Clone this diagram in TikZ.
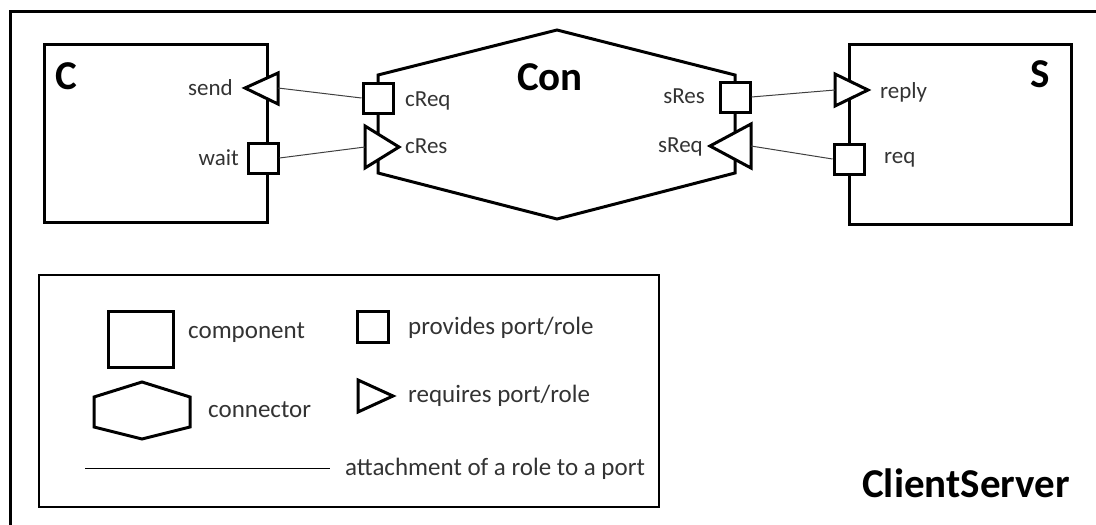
\documentclass[tikz,border=0pt]{standalone}
\usepackage{fontspec}
\setmainfont{Carlito}
\begin{document}
\begin{tikzpicture}[x=1pt,y=-1pt,
  thickline/.style={line width=3pt, line join=miter},
  portbox/.style={draw, thickline, fill=white, minimum size=30pt, inner sep=0pt},
  compbox/.style={draw, thickline, anchor=north west, inner sep=0pt},
  reqtri/.style={draw, thickline, fill=white},
  attach/.style={draw=black!75, line width=1pt},
  lbl/.style={inner sep=0pt, text=black!80, font=\fontsize{23}{27}\selectfont},
  leglbl/.style={inner sep=0pt, text=black!80, font=\fontsize{25}{29}\selectfont},
  title/.style={inner sep=0pt, font=\fontsize{41}{46}\selectfont\bfseries},
]
\useasboundingbox (0,0) rectangle (1096,525);

% outer frame
\draw[thickline] (10,525) -- (10,11) -- (1096,11);

% components
\node[compbox, minimum width=223pt, minimum height=178pt] (C) at (43,43) {};
\node[compbox, minimum width=222pt, minimum height=180pt] (S) at (848,43) {};
\node[title] (Ct) at (66,76) {C};
\node[title] (St) at (1040,74) {S};

% connector
\coordinate (h1) at (378,75);
\coordinate (h2) at (557,30);
\coordinate (h3) at (735,75);
\coordinate (h4) at (735,173);
\coordinate (h5) at (557,219);
\coordinate (h6) at (378,173);
\draw[thickline] (h1) -- (h2) -- (h3) -- (h4) -- (h5) -- (h6) -- cycle;
\node[title] (Con) at (550,77) {Con};

% required ports / roles (triangles)
\draw[reqtri] (278,73) -- (245,88) -- (278,104) -- cycle;
\coordinate (sendB) at (278,88);
\draw[reqtri] (365,126) -- (399,147) -- (365,168) -- cycle;
\coordinate (cResB) at (365,147);
\draw[reqtri] (751,124) -- (710,146) -- (751,168) -- cycle;
\coordinate (sReqB) at (751,146);
\draw[reqtri] (835,74) -- (868,90) -- (835,106) -- cycle;
\coordinate (replyB) at (835,90);

% provided ports / roles (squares)
\node[portbox] (wait) at (263,158) {};
\node[portbox] (cReq) at (378,98) {};
\node[portbox] (sRes) at (735,97) {};
\node[portbox] (req) at (849,159) {};

% attachments
\draw[attach] (sendB) -- (cReq.west);
\draw[attach] (wait.east) -- (cResB);
\draw[attach] (sRes.east) -- (replyB);
\draw[attach] (sReqB) -- (req.west);

% port and role labels
\node[lbl, anchor=east] (lsend) at (233,88) {send};
\node[lbl, anchor=east] (lwait) at (239,158) {wait};
\node[lbl, anchor=west] (lcReq) at (405,101) {cReq};
\node[lbl, anchor=west] (lcRes) at (405,146) {cRes};
\node[lbl, anchor=east] (lsRes) at (705,96) {sRes};
\node[lbl, anchor=east] (lsReq) at (703,147) {sReq};
\node[lbl, anchor=west] (lreply) at (880,92) {reply};
\node[lbl, anchor=west] (lreq) at (884,160) {req};

% legend
\draw[line width=1.5pt] (39,275) rectangle (659,507);
\node[compbox, minimum width=65pt, minimum height=56pt] (Lcomp) at (107,310) {};
\node[leglbl, anchor=west] (Lcompt) at (188,333) {component};
\draw[thickline] (94,397) -- (142,382) -- (190,397) -- (190,427) -- (142,439) -- (94,427) -- cycle;
\node[leglbl, anchor=west] (Lcont) at (208,410) {connector};
\node[portbox, minimum size=31pt] (Lprov) at (373,327) {};
\node[leglbl, anchor=west] (Lprovt) at (408,328) {provides port/role};
\draw[reqtri] (358,380) -- (393,396) -- (358,412) -- cycle;
\node[leglbl, anchor=west] (Lreqt) at (408,396) {requires port/role};
\coordinate (La) at (85,468);
\coordinate (Lb) at (330,468);
\draw[line width=1pt] (La) -- (Lb);
\node[leglbl, anchor=west] (Latt) at (345,469) {attachment of a role to a port};

% system name
\node[title] (sys) at (966,483) {ClientServer};
\end{tikzpicture}
\end{document}
